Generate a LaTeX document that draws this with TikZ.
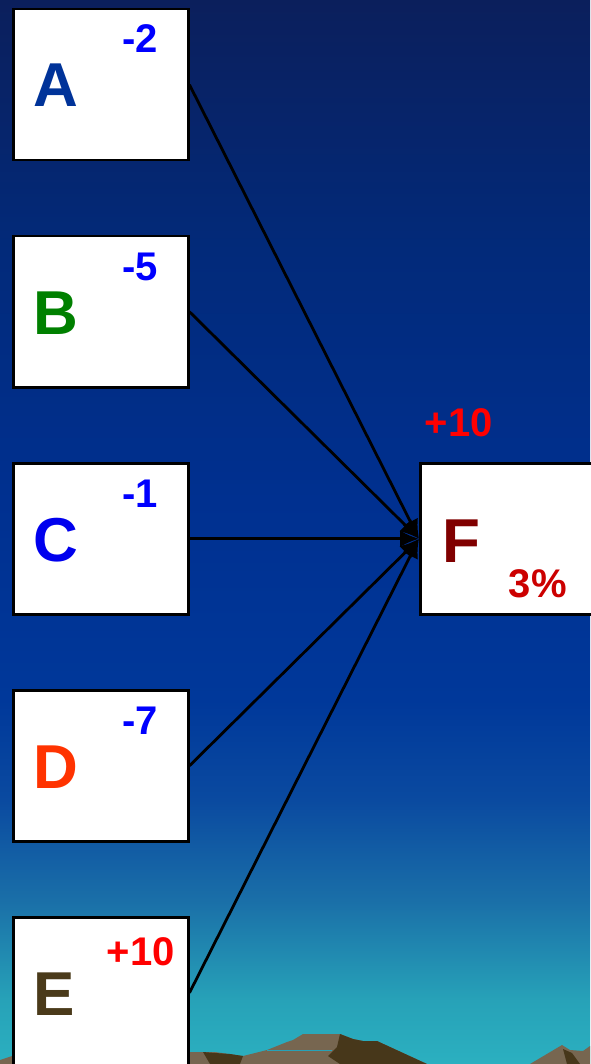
\documentclass[tikz,border=0pt]{standalone}
\usepackage{fontspec}
\setmainfont{Liberation Sans}
\usetikzlibrary{arrows.meta}

\definecolor{skyA}{HTML}{2BB0C0}
\definecolor{skyB}{HTML}{27A2B8}
\definecolor{skyC}{HTML}{1A6FA8}
\definecolor{skyD}{HTML}{0A4AA0}
\definecolor{skyE}{HTML}{00389A}
\definecolor{skyF}{HTML}{003090}
\definecolor{skyG}{HTML}{022A7A}
\definecolor{skyH}{HTML}{0B1F5C}
\definecolor{hillLight}{HTML}{776650}
\definecolor{hillDark}{HTML}{47371A}
\definecolor{letA}{HTML}{003399}
\definecolor{letB}{HTML}{008000}
\definecolor{letC}{HTML}{0000EE}
\definecolor{letD}{HTML}{FF3300}
\definecolor{letE}{HTML}{4A3A1A}
\definecolor{letF}{HTML}{800000}
\definecolor{numneg}{HTML}{0000FF}
\definecolor{numpos}{HTML}{FF0000}
\definecolor{pct}{HTML}{CC0000}

% middle 50bp of the shading fills the path
\pgfdeclareverticalshading{sky}{100bp}{color(0bp)=(skyA); color(25bp)=(skyA);
  color(28bp)=(skyB); color(32.7bp)=(skyC); color(37.4bp)=(skyD);
  color(42.1bp)=(skyE); color(51.5bp)=(skyF); color(63.2bp)=(skyG);
  color(75bp)=(skyH); color(100bp)=(skyH)}

\tikzset{
  srcbox/.style={draw=black, fill=white, line width=2.5pt, minimum width=175pt,
    minimum height=151pt, inner sep=0pt, anchor=north west},
  letter/.style={font=\fontsize{62}{62}\selectfont\bfseries, inner sep=0pt, anchor=base west},
  num/.style={font=\fontsize{40}{40}\selectfont\bfseries, inner sep=0pt, anchor=base east},
  link/.style={-{Latex[length=19pt,width=17pt]}, line width=2.8pt, black}
}

\begin{document}
\begin{tikzpicture}[x=1pt, y=-1pt]
\useasboundingbox (0,0) rectangle (590,1064);
\shade[shading=sky] (0,0) rectangle (590,1064);

% hills
\fill[hillLight] (0,1064) -- (0,1060) -- (12,1056) -- (12,1064) -- cycle;
\fill[hillLight] (188,1064) -- (188,1052) -- (215,1052) -- (243,1056) -- (267,1050)
  -- (287,1042) -- (293,1040) -- (303,1034) -- (340,1034) -- (353,1039)
  -- (363,1041) -- (377,1041) -- (427,1064) -- cycle;
\fill[hillDark] (203,1052) -- (215,1053) -- (230,1054) -- (243,1056) -- (240,1064)
  -- (210,1064) -- cycle;
\fill[hillDark] (340,1034) -- (353,1039) -- (363,1041) -- (377,1041) -- (427,1064)
  -- (340,1064) -- (328,1056) -- (337,1047) -- cycle;
\draw[skyB, line width=0.8pt] (267,1050) -- (332,1050);
\fill[hillLight] (530,1064) -- (562,1045) -- (570,1050) -- (583,1051) -- (590,1046)
  -- (590,1064) -- cycle;
\fill[hillDark] (563,1049) -- (572,1053) -- (580,1064) -- (567,1064) -- cycle;

% target
\node[srcbox, minimum width=190pt] (boxF) at (419,462) {};
\node[letter, text=letF] (letF) at (442,562) {F};
\node[num, text=pct] (pctF) at (567,597) {3\%};
\node[num, text=numpos] (numF) at (493,436) {+10};

% sources
\foreach \n/\col/\num/\numcol/\nx/\ny [count=\i from 0] in
  {A/letA/-2/numneg/158/53, B/letB/-5/numneg/158/53, C/letC/-1/numneg/158/53,
   D/letD/-7/numneg/158/53, E/letE/+10/numpos/175/57} {
    \node[srcbox] (box\n) at (12,{8+227*\i}) {};
    \node[letter, text=\col] (let\n) at (33,{107+227*\i}) {\n};
    \node[num, text=\numcol] (num\n) at (\nx,{\ny+227*\i}) {\num};
    \draw[link] (box\n.east) -- (boxF.west);
}

\end{tikzpicture}
\end{document}
